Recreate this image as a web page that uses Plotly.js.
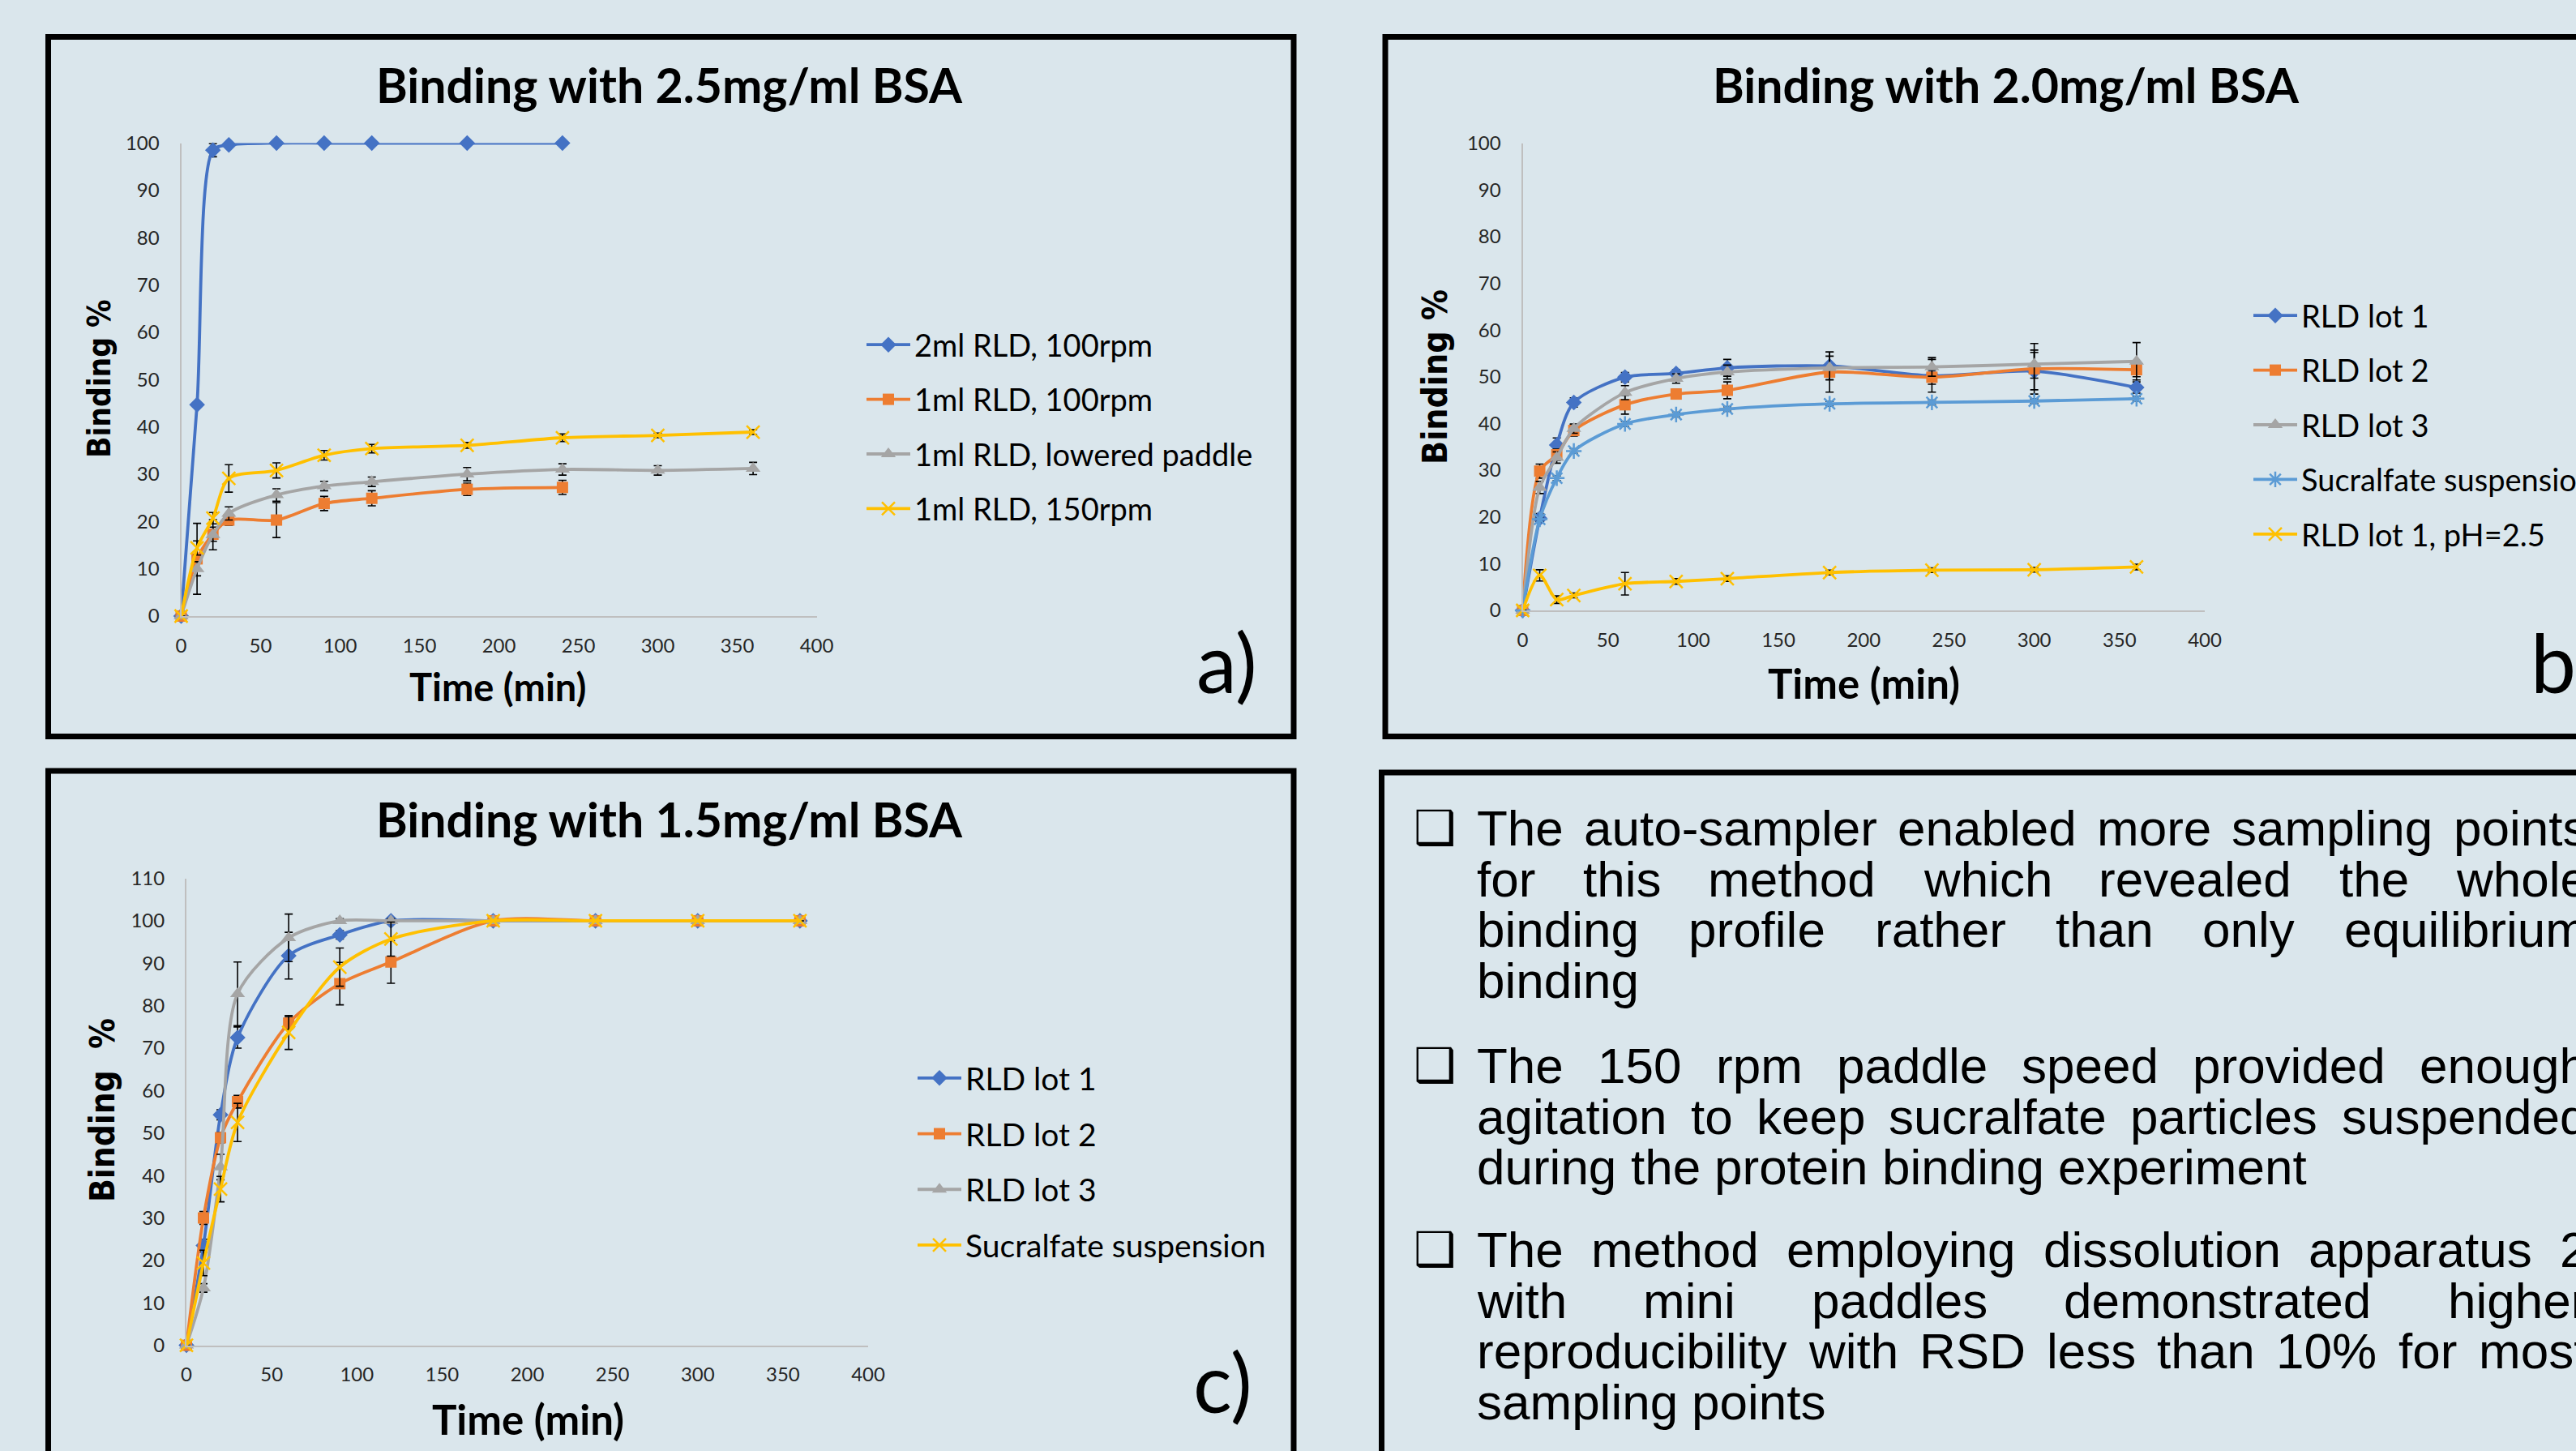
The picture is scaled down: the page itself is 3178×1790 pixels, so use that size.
<!DOCTYPE html>
<html>
<head>
<meta charset="utf-8">
<script src="https://cdn.plot.ly/plotly-3.0.1.min.js"></script>
<style>html,body{margin:0;padding:0;background:#DAE6EC;overflow:hidden;}#chart{width:3178px;height:1790px;}</style>
</head>
<body>
<div id="chart"></div>
<script>
// ---------------- DATA ----------------
const time = [0, 10, 20, 30, 60, 90, 120, 180, 240, 300, 360];
const xTicks = [0, 50, 100, 150, 200, 250, 300, 350, 400];

// Panel a) Binding with 2.5mg/ml BSA
const a_names = ["2ml RLD, 100rpm", "1ml RLD, 100rpm", "1ml RLD, lowered paddle", "1ml RLD, 150rpm"];
const a_2ml100 = [0, 44.7, 98.5, 99.6, 100, 100, 100, 100, 100];
const a_2ml100_err = [0, 0.5, 1.4, 0.5, 0, 0, 0, 0, 0];
const a_1ml100 = [0, 12.1, 17.3, 20.3, 20.3, 23.8, 24.9, 26.8, 27.2];
const a_1ml100_err = [0, 7.5, 1.5, 1.1, 3.7, 1.5, 1.6, 1.3, 1.5];
const a_lowered = [0, 10.0, 17.2, 21.7, 25.6, 27.5, 28.4, 30.0, 31.0, 30.8, 31.2];
const a_lowered_err = [0, 1.5, 3.2, 1.4, 1.3, 1.0, 1.0, 1.4, 1.2, 1.0, 1.3];
const a_150 = [0, 14.4, 20.7, 29.1, 30.8, 34.0, 35.4, 36.1, 37.7, 38.2, 38.9];
const a_150_err = [0, 1.5, 1.2, 2.9, 1.6, 1.0, 0.9, 0.6, 0.8, 0.5, 0.5];

// Panel b) Binding with 2.0mg/ml BSA
const b_names = ["RLD lot 1", "RLD lot 2", "RLD lot 3", "Sucralfate suspension", "RLD lot 1, pH=2.5"];
const b_lot1 = [0, 19.7, 35.4, 44.5, 49.9, 50.7, 51.9, 52.3, 50.2, 51.2, 47.7];
const b_lot1_err = [0, 1.0, 1.5, 1.0, 1.0, 0.8, 1.8, 3.0, 3.5, 4.0, 1.2];
const b_lot2 = [0, 29.8, 33.3, 38.5, 44.0, 46.3, 47.1, 51.0, 49.9, 51.7, 51.5];
const b_lot2_err = [0, 1.5, 1.2, 1.2, 2.0, 1.0, 1.8, 4.3, 1.5, 5.4, 1.5];
const b_lot3 = [0, 26.3, 32.7, 38.9, 46.6, 49.6, 51.0, 51.9, 52.1, 52.7, 53.3];
const b_lot3_err = [0, 1.3, 1.2, 1.0, 1.5, 1.0, 1.5, 2.5, 2.0, 3.0, 4.0];
const b_suc = [0, 19.5, 28.3, 34.1, 39.9, 41.9, 43.1, 44.2, 44.5, 44.8, 45.3];
const b_suc_err = [0, 0.5, 0.5, 0.5, 0.5, 0.5, 0.5, 0.5, 0.5, 0.5, 0.5];
const b_ph = [0, 7.5, 2.3, 3.2, 5.7, 6.2, 6.8, 8.1, 8.6, 8.7, 9.3];
const b_ph_err = [0, 1.2, 0.8, 0.5, 2.4, 0.6, 0.6, 0.5, 0.5, 0.5, 0.6];

// Panel c) Binding with 1.5mg/ml BSA
const c_names = ["RLD lot 1", "RLD lot 2", "RLD lot 3", "Sucralfate suspension"];
const c_lot1 = [0, 23.5, 54.3, 72.5, 91.8, 96.7, 100, 100, 100, 100, 100];
const c_lot1_err = [0, 1.5, 1.2, 2.5, 5.5, 1.0, 0.5, 0, 0, 0, 0];
const c_lot2 = [0, 30.0, 48.9, 57.4, 75.9, 85.2, 90.3, 100, 100, 100, 100];
const c_lot2_err = [0, 1.5, 1.2, 1.5, 1.5, 5.0, 5.0, 0, 0, 0, 0];
const c_lot3 = [0, 13.5, 42.0, 82.8, 96.0, 100, 100, 100, 100, 100, 100];
const c_lot3_err = [0, 1.0, 3.0, 7.5, 5.6, 0.5, 0.5, 0, 0, 0, 0];
const c_suc = [0, 19.4, 36.8, 52.5, 73.7, 89.1, 95.7, 100, 100, 100, 100];
const c_suc_err = [0, 3.0, 3.0, 4.5, 4.0, 4.5, 4.0, 0, 0, 0, 0];

// Text panel
const paragraphs = [
  ["The auto-sampler enabled more sampling points", "for this method which revealed the whole", "binding profile rather than only equilibrium", "binding"],
  ["The 150 rpm paddle speed provided enough", "agitation to keep sucralfate particles suspended", "during the protein binding experiment"],
  ["The method employing dissolution apparatus 2", "with mini paddles demonstrated higher", "reproducibility with RSD less than 10% for most", "sampling points"]
];

// ---------------- LAYOUT HELPERS ----------------
const W = 3178, H = 1790;
const PX = x => x / W;
const PY = y => 1 - y / H;
const BG = '#DAE6EC';
const BLUE = '#4472C4', ORANGE = '#ED7D31', GRAY = '#A5A5A5', YELLOW = '#FFC000', LBLUE = '#5B9BD5';
const CHART_FONT = 'Lato, Carlito, "Liberation Sans", sans-serif';

function marker(sym, color) {
  if (sym === 'asterisk-open' || sym === 'x-thin-open') {
    return {symbol: sym, size: 16, color: color, line: {color: color, width: 2.5}};
  }
  const sizes = {'diamond': 15, 'square': 14, 'triangle-up': 16};
  return {symbol: sym, size: sizes[sym], color: color, line: {width: 0}};
}

function trace(y, err, name, color, sym, ax, leg, grp) {
  return {
    type: 'scatter', mode: 'lines+markers',
    x: time.slice(0, y.length), y: y, name: name,
    xaxis: 'x' + ax, yaxis: 'y' + ax,
    legend: leg, legendgroup: grp,
    line: {color: color, width: 3.8, shape: 'spline', smoothing: 0.8},
    marker: marker(sym, color),
    error_y: {type: 'data', array: err.slice(0, y.length), visible: true, color: '#000000', thickness: 1.6, width: 5},
    cliponaxis: false
  };
}

const data = [
  trace(a_2ml100, a_2ml100_err, a_names[0], BLUE, 'diamond', '', 'legend', 'a1'),
  trace(a_1ml100, a_1ml100_err, a_names[1], ORANGE, 'square', '', 'legend', 'a2'),
  trace(a_lowered, a_lowered_err, a_names[2], GRAY, 'triangle-up', '', 'legend', 'a3'),
  trace(a_150, a_150_err, a_names[3], YELLOW, 'x-thin-open', '', 'legend', 'a4'),

  trace(b_lot1, b_lot1_err, b_names[0], BLUE, 'diamond', '2', 'legend2', 'b1'),
  trace(b_lot2, b_lot2_err, b_names[1], ORANGE, 'square', '2', 'legend2', 'b2'),
  trace(b_lot3, b_lot3_err, b_names[2], GRAY, 'triangle-up', '2', 'legend2', 'b3'),
  trace(b_suc, b_suc_err, b_names[3], LBLUE, 'asterisk-open', '2', 'legend2', 'b4'),
  trace(b_ph, b_ph_err, b_names[4], YELLOW, 'x-thin-open', '2', 'legend2', 'b5'),

  trace(c_lot1, c_lot1_err, c_names[0], BLUE, 'diamond', '3', 'legend3', 'c1'),
  trace(c_lot2, c_lot2_err, c_names[1], ORANGE, 'square', '3', 'legend3', 'c2'),
  trace(c_lot3, c_lot3_err, c_names[2], GRAY, 'triangle-up', '3', 'legend3', 'c3'),
  trace(c_suc, c_suc_err, c_names[3], YELLOW, 'x-thin-open', '3', 'legend3', 'c4')
];

function xAxis(domain, anchor) {
  return {
    domain: domain, anchor: anchor, range: [0, 400], tickvals: xTicks,
    showline: true, linecolor: '#BFBFBF', linewidth: 2, showgrid: false, zeroline: false,
    ticks: '', ticklabelstandoff: 14, automargin: false,
    tickfont: {family: CHART_FONT, size: 24, color: '#262626'}, fixedrange: true
  };
}
function yAxis(domain, anchor, max) {
  return {
    domain: domain, anchor: anchor, range: [0, max], dtick: 10,
    showline: true, linecolor: '#BFBFBF', linewidth: 2, showgrid: false, zeroline: false,
    ticks: '', ticklabelstandoff: 20, automargin: false,
    tickfont: {family: CHART_FONT, size: 24, color: '#262626'}, fixedrange: true
  };
}

function legend(xpx, ytop, fs) {
  return {
    x: PX(xpx), y: PY(ytop), xanchor: 'left', yanchor: 'top',
    bgcolor: 'rgba(0,0,0,0)', borderwidth: 0,
    font: {family: CHART_FONT, size: fs, color: '#000000'},
    traceorder: 'grouped', tracegroupgap: 15, itemwidth: 54
  };
}

const annotations = [];
function ann(text, x, y, size, opts) {
  annotations.push(Object.assign({
    xref: 'paper', yref: 'paper', x: PX(x), y: PY(y), text: text, showarrow: false,
    xanchor: 'center', yanchor: 'middle', borderpad: 0, borderwidth: 0,
    font: {family: CHART_FONT, size: size, color: '#000000'}
  }, opts || {}));
}
const BOLD_FONT = s => ({family: CHART_FONT, size: s, color: '#000000', weight: 'bold'});
const YT_FONT = s => ({family: '"DejaVu Sans Condensed", "DejaVu Sans", Verdana, sans-serif', size: s, color: '#000000', weight: 'bold'});

// Titles
ann('Binding with 2.5mg/ml BSA', 826, 105, 59, {font: BOLD_FONT(59)});
ann('Binding with 2.0mg/ml BSA', 2475, 105, 59, {font: BOLD_FONT(59)});
ann('Binding with 1.5mg/ml BSA', 826, 1010, 59, {font: BOLD_FONT(59)});
// Axis titles
ann('Time (min)', 614, 847, 47, {font: BOLD_FONT(47)});
ann('Time (min)', 2299, 843, 51, {font: BOLD_FONT(51)});
ann('Time (min)', 651, 1750, 51, {font: BOLD_FONT(51)});
ann('Binding %', 123, 467, 38.5, {font: YT_FONT(38.5), textangle: -90});
ann('Binding %', 1771, 465, 42.5, {font: YT_FONT(42.5), textangle: -90});
ann('Binding  %', 126, 1370, 42, {font: YT_FONT(42), textangle: -90});
// Panel letters
ann('a)', 1476, 816, 100, {xanchor: 'left'});
ann('b)', 3122, 816, 100, {xanchor: 'left'});
ann('c)', 1472, 1704, 100, {xanchor: 'left'});

// Text panel with justified lines
const TXT_FAMILY = '"Liberation Sans", Arial, Helvetica, sans-serif';
const TXT_SIZE = 62;
const LINE_BOX = 62;            // text box height, bottom aligned so only empty space above ascenders is trimmed
const cv = document.createElement('canvas').getContext('2d');
cv.font = TXT_SIZE + 'px "Liberation Sans", Arial, sans-serif';
const L = 1822, R = 3192;
const baselines = [[1043, 1105.5, 1168, 1230.5], [1336, 1398.5, 1461], [1563, 1625.5, 1688, 1750.5]];
paragraphs.forEach((lines, p) => {
  // bullet
  ann('\u2751', 1770, baselines[p][0] - 22, 58, {font: {family: '"DejaVu Sans", sans-serif', size: 58, color: '#000000', weight: 'bold'}});
  lines.forEach((line, i) => {
    const cy = baselines[p][i] + 0.212 * TXT_SIZE - LINE_BOX / 2;
    const words = line.split(' ');
    const last = i === lines.length - 1;
    const widths = words.map(w => cv.measureText(w).width);
    const total = widths.reduce((s, v) => s + v, 0);
    const space = cv.measureText(' ').width;
    const gap = (last || words.length < 2) ? space : (R - L - total) / (words.length - 1);
    let x = L;
    words.forEach((w, k) => {
      ann(w, x, cy, TXT_SIZE, {xanchor: 'left', height: LINE_BOX, valign: 'bottom',
        font: {family: TXT_FAMILY, size: TXT_SIZE, color: '#000000'}});
      x += widths[k] + gap;
    });
  });
});

// Panel borders
const shapes = [
  [59.5, 45.5, 1596, 908.5],
  [1709, 45.5, 3400, 908.5],
  [59.5, 951, 1596, 2000],
  [1704.5, 953, 3400, 2000]
].map(b => ({type: 'rect', xref: 'paper', yref: 'paper', x0: PX(b[0]), x1: PX(b[2]), y0: PY(b[3]), y1: PY(b[1]),
  line: {color: '#000000', width: 7}, fillcolor: 'rgba(0,0,0,0)', layer: 'above'}));

const layout = {
  width: W, height: H, margin: {l: 0, r: 0, t: 0, b: 0, pad: 0, autoexpand: false},
  paper_bgcolor: BG, plot_bgcolor: 'rgba(0,0,0,0)',
  showlegend: true,
  xaxis: xAxis([PX(223.5), PX(1007.5)], 'y'),
  yaxis: yAxis([PY(760), PY(176.5)], 'x', 100),
  xaxis2: xAxis([PX(1878.5), PX(2720)], 'y2'),
  yaxis2: yAxis([PY(753), PY(176.5)], 'x2', 100),
  xaxis3: xAxis([PX(230), PX(1071)], 'y3'),
  yaxis3: yAxis([PY(1659.6), PY(1083.6)], 'x3', 110),
  legend: legend(1064, 394, 38),
  legend2: legend(2775, 358, 38),
  legend3: legend(1127, 1298, 39),
  annotations: annotations,
  shapes: shapes
};

Plotly.newPlot('chart', data, layout, {displayModeBar: false, staticPlot: true});
</script>
</body>
</html>
